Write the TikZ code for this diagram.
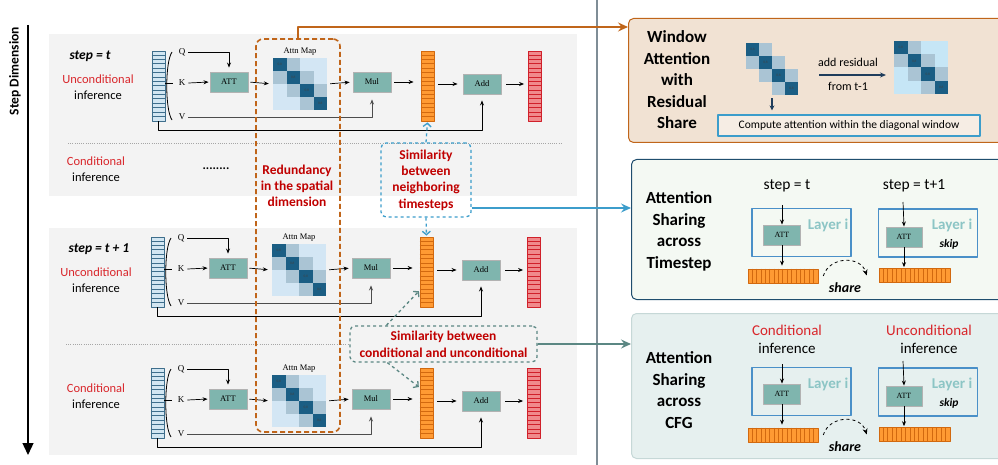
\documentclass[tikz,border=0pt]{standalone}
\usepackage{fontspec}
\setmainfont{Carlito}
\newfontfamily\tm{Liberation Serif}
\usetikzlibrary{arrows.meta,positioning}
\newcommand\fnt[2]{\fontsize{#1}{#2}\selectfont}
\definecolor{panel}{HTML}{F3F3F3}
\definecolor{redt}{HTML}{D9262B}
\definecolor{redb}{HTML}{C00000}
\definecolor{oc}{HTML}{C0651A}
\definecolor{bc}{HTML}{3C9DCB}
\definecolor{gc}{HTML}{5B8783}
\definecolor{opf}{HTML}{7FB5AE}
\definecolor{vinf}{HTML}{D2E6F2}
\definecolor{vinb}{HTML}{3E6E8C}
\definecolor{vmidf}{HTML}{FF9A33}
\definecolor{vmidb}{HTML}{D2690F}
\definecolor{voutf}{HTML}{F08A8C}
\definecolor{voutb}{HTML}{D0202A}
\definecolor{mdark}{HTML}{1B5E84}
\definecolor{mgray}{HTML}{AAC4D4}
\definecolor{mlight}{HTML}{D3E6F4}
\definecolor{mlight2}{HTML}{C6E6F6}
\definecolor{divc}{HTML}{7F8D96}
\definecolor{winf}{HTML}{F1E2D3}
\definecolor{cboxf}{HTML}{F6EDE4}
\definecolor{tsf}{HTML}{F4F9F3}
\definecolor{tsb}{HTML}{1F4E6E}
\definecolor{cff}{HTML}{E6F0EF}
\definecolor{cfb}{HTML}{C6D8D7}
\definecolor{layb}{HTML}{4A90C8}
\definecolor{layt}{HTML}{8CC5C5}
\definecolor{navy}{HTML}{1F3D5C}
% x0, y0, cell w, cell h, fill outside window, name
\newcommand\attnmap[6]{%
  \path[#5] (#1,#2) rectangle ++({4*#3},{4*#4});
  \foreach \ci/\cj in {0/1,1/0,1/2,2/1,2/3,3/2}
    \fill[mgray] ({#1+#3*\ci},{#2+#4*\cj}) rectangle ++(#3,#4);
  \foreach \ci in {0,...,3}
    \node[celltxt, minimum width=#3, minimum height=#4] (#6-\ci) at ({#1+#3*\ci+#3/2},{#2+#4*\ci+#4/2}) {0.8};
}
\begin{document}
\begin{tikzpicture}[x=1pt, y=-1pt, line join=round, font=\fnt{12.5}{16},
  vec/.style={minimum width=13, minimum height=70, inner sep=0pt, line width=0.8pt},
  op/.style={draw=black!30, line width=0.9pt, fill=opf, minimum width=38, minimum height=20, inner sep=0pt, font=\tm\fnt{8.5}{10}},
  qkv/.style={font=\tm\fnt{9}{10}, inner sep=3pt},
  celltxt/.style={fill=mdark, inner sep=0pt, font=\tm\fnt{3.5}{3.5}, text=black!75},
  arr/.style={-{Stealth[length=5pt,width=4pt]}, line width=0.7pt},
  lane/.style={line width=1.1pt, draw=black!70},
  lbl/.style={align=center, font=\fnt{12.5}{16}},
  hint/.style={text=redb, font=\bfseries\fnt{13.5}{16.3}, align=center},
  title/.style={font=\bfseries\fnt{17}{21.5}, align=center},
  layer/.style={draw=layb, line width=1.2pt, minimum width=99, minimum height=48, inner sep=0pt},
  laytxt/.style={text=layt, font=\bfseries\fnt{15}{16}},
  bar/.style={draw=vmidb, fill=vmidf, minimum width=70, minimum height=14, inner sep=0pt, line width=0.6pt},
  link/.style={line width=1.1pt, -{Stealth[length=10pt,width=9pt,inset=3.5pt]}},
  hop/.style={dashed, line width=1.3pt, -{Straight Barb[length=3.5pt,width=8pt]}, shorten >=1pt}]
\useasboundingbox (0,0) rectangle (998,465);
\clip (0,0) rectangle (998,465);

\fill[panel] (49,34) rectangle (577,196);
\fill[panel] (49,228) rectangle (577,455);
\draw[black!35, dash pattern=on 1pt off 1.2pt] (68,143) -- (563,143);
\draw[black!35, dash pattern=on 1pt off 1.2pt] (66,344) -- (563,344);

\node[rotate=90, font=\bfseries\fnt{13.5}{16}] (stepdim) at (15,71) {Step Dimension};
\coordinate (ax-top) at (28,25);
\coordinate (ax-bot) at (28,455);
\draw[line width=1.3pt, -{Triangle[length=12pt,width=11pt]}] (ax-top) -- (ax-bot);

\node[font=\bfseries\itshape\fnt{13.5}{16}] (step-a) at (90,56) {step = t};
\node[font=\bfseries\itshape\fnt{13.5}{16}] (step-b) at (99,249) {step = t + 1};
\node[lbl] (lbl-a) at (98,87) {\textcolor{redt}{Unconditional}\\inference};
\node[lbl] (lbl-ac) at (96,169.5) {\textcolor{redt}{Conditional}\\inference};
\node[lbl] (lbl-b) at (96,280.5) {\textcolor{redt}{Unconditional}\\inference};
\node[lbl] (lbl-c) at (96,396.5) {\textcolor{redt}{Conditional}\\inference};
\node[font=\bfseries\fnt{12.5}{16}] (dots) at (216,169) {........};

\foreach \rw/\dx/\dy in {a/0/0, b/-1/186, c/-1/317}{
\begin{scope}[shift={(\dx,\dy)}]
\node[vec, draw=vinb, fill=vinf] (\rw-in) at (158.5,86) {};
\node[vec, draw=vmidb, fill=vmidf] (\rw-mid) at (427.5,86) {};
\node[vec, draw=voutb, fill=voutf] (\rw-out) at (535,86) {};
\foreach \k in {1,...,15}{
  \draw[vinb, line width=0.6pt] ([yshift=-\k*4.375pt]\rw-in.north west) -- ([yshift=-\k*4.375pt]\rw-in.north east);
  \draw[vmidb, line width=0.6pt] ([yshift=-\k*4.375pt]\rw-mid.north west) -- ([yshift=-\k*4.375pt]\rw-mid.north east);
  \draw[voutb, line width=0.6pt] ([yshift=-\k*4.375pt]\rw-out.north west) -- ([yshift=-\k*4.375pt]\rw-out.north east);
}
\draw[line width=0.8pt] (172,52) .. controls (165,62) and (165,110) .. (172,120);
\node[qkv] (\rw-q) at (182,52) {Q};
\node[qkv] (\rw-k) at (182,83) {K};
\node[qkv] (\rw-v) at (182,117) {V};
\draw[line width=0.7pt] (\rw-in.east |- \rw-k) -- ++(8,0);
\node[op] (\rw-att) at (229,82) {ATT};
\node[inner sep=0pt, minimum width=54, minimum height=52] (\rw-map) at (300,84) {};
\attnmap{273}{58}{13.5}{13}{fill=mlight}{\rw-cell}
\node[above=1pt of \rw-map, font=\tm\fnt{8.5}{9}, inner sep=1pt] (\rw-maplbl) {Attn Map};
\node[op] (\rw-mul) at (372,82) {Mul};
\node[op] (\rw-add) at (482,84) {Add};
\draw[arr, shorten >=4pt] (\rw-q.east) -| (\rw-att.north);
\draw[arr, shorten >=1pt] (\rw-k.east) -- (\rw-att.west);
\draw[arr, shorten <=2pt, shorten >=4pt] (\rw-att.east) -- (\rw-map.west);
\draw[arr, shorten <=3pt, shorten >=3pt] (\rw-map.east) -- (\rw-mul.west);
\draw[arr, shorten <=3pt, shorten >=7pt] (\rw-mul.east) -- (\rw-mid.west |- \rw-mul);
\draw[arr, shorten <=4pt, shorten >=5pt] (\rw-mid.east |- \rw-add) -- (\rw-add.west);
\draw[arr, shorten <=5pt, shorten >=4pt] (\rw-add.east) -- (\rw-out.west |- \rw-add);
\draw[lane, arr, shorten >=7pt] (\rw-v.east) -| (\rw-mul.south);
\draw[arr, line width=0.9pt, shorten >=6pt] (\rw-in.south) -- ++(0,9) -| (\rw-add.south);
\end{scope}}

\node[draw=oc, dash pattern=on 5pt off 3pt, line width=1.6pt, rounded corners=7pt, minimum width=84, minimum height=393] (redun) at (298,235.5) {};
\node[hint] (redun-t) at (297,186) {Redundancy\\in the spatial\\dimension};
\node[draw=bc, dashed, line width=1.3pt, rounded corners=5pt, minimum width=90, minimum height=74, hint] (simnb) at (426,180) {Similarity\\between\\neighboring\\timesteps};
\node[draw=gc, dashed, line width=1.3pt, rounded corners=5pt, fill=panel, minimum width=187, minimum height=36, hint, font=\bfseries\fnt{13.5}{17}] (simcf) at (443.5,344) {Similarity between\\conditional and unconditional};
\draw[hop, bc] (simnb.north) -- (a-mid.south);
\draw[hop, bc] (simnb.south) -- (b-mid.north);
\draw[hop, gc] ([xshift=37pt]simcf.north west) -- ([yshift=17pt]b-mid.south west);
\draw[hop, gc] ([xshift=38pt]simcf.south west) -- ([yshift=-20pt]c-mid.north west);

\coordinate (div-top) at (597,0);
\coordinate (div-bot) at (597,465);
\draw[divc, line width=2pt] (div-top) -- (div-bot);

\node[draw=oc, fill=winf, rounded corners=5pt, line width=1pt, minimum width=380, minimum height=124, anchor=north west] (win) at (628,18) {};
\node[draw=tsb, fill=tsf, rounded corners=5pt, line width=1pt, minimum width=380, minimum height=140, anchor=north west] (ts) at (631,159) {};
\node[draw=cfb, fill=cff, rounded corners=5pt, line width=1pt, minimum width=380, minimum height=145, anchor=north west] (cf) at (631,313) {};

\coordinate (wtip) at (628,27);
\coordinate (tstip) at (631,208);
\coordinate (cftip) at (631,344);
\draw[link, oc] (redun.north) |- (wtip);
\draw[link, bc] (simnb.east |- tstip) -- (tstip);
\draw[link, gc] (simcf.east) -- (cftip);

\node[title] (win-t) at (677,80) {Window\\Attention\\with\\Residual\\Share};
\node[title] (ts-t) at (679,231.5) {Attention\\Sharing\\across\\Timestep};
\node[title] (cf-t) at (679,390) {Attention\\Sharing\\across\\CFG};

\node[inner sep=0pt, minimum width=52, minimum height=52] (wmat) at (772,69) {};
\attnmap{746}{43}{13}{13}{fill=none}{wcell}
\node[inner sep=0pt, minimum width=54, minimum height=53] (fmat) at (921,67.5) {};
\attnmap{894}{41}{13.5}{13.25}{fill=mlight2}{fcell}
\node[draw=bc, fill=cboxf, line width=1.2pt, minimum width=262, minimum height=21, inner sep=0pt, font=\fnt{11.5}{13}] (cbox) at (849,125.5) {Compute attention within the diagonal window};
\draw[navy, line width=1.2pt, -{Stealth[length=5pt,width=5pt]}, shorten <=3pt, shorten >=4pt] (wmat.south) -- (wmat.south |- cbox.north);
\node[font=\fnt{12}{14}] (addres) at (848,62) {add residual};
\node[font=\fnt{12}{14}] (fromt) at (848,86) {from t-1};
\coordinate (res-a) at (819,75);
\coordinate (res-b) at (886,75);
\draw[navy, line width=1.2pt, -{Stealth[length=6pt,width=5pt]}] (res-a) -- (res-b);

\node[font=\fnt{15.5}{18}] (ts-h1) at (787,186) {step = t};
\node[font=\fnt{15.5}{18}] (ts-h2) at (914,186) {step = t+1};
\node[align=center, font=\fnt{15}{18}] (cf-h1) at (787,339) {\textcolor{redt}{Conditional}\\inference};
\node[align=center, font=\fnt{15}{18}] (cf-h2) at (929,339.5) {\textcolor{redt}{Unconditional}\\inference};

\foreach \bx/\dy in {ts/0, cf/159}{
\begin{scope}[shift={(0,\dy)}]
\node[layer] (\bx-l1) at (801.5,232.5) {};
\node[layer] (\bx-l2) at (928,233) {};
\node[op, minimum width=37, font=\tm\fnt{8}{10}] (\bx-a1) at (782,235) {ATT};
\node[op, minimum width=36, font=\tm\fnt{8}{10}] (\bx-a2) at (904,237) {ATT};
\node[laytxt] (\bx-t1) at (828,225) {Layer i};
\node[laytxt] (\bx-t2) at (952,225) {Layer i};
\node[font=\bfseries\itshape\fnt{11.5}{13}] (\bx-sk) at (949,244) {skip};
\node[bar] (\bx-b1) at (783,276) {};
\node[bar, minimum width=71] (\bx-b2) at (914.5,275.5) {};
\foreach \k in {1,...,15}{
  \draw[vmidb, line width=0.5pt] ([xshift=\k*4.375pt]\bx-b1.north west) -- ([xshift=\k*4.375pt]\bx-b1.south west);
  \draw[vmidb, line width=0.5pt] ([xshift=\k*4.44pt]\bx-b2.north west) -- ([xshift=\k*4.44pt]\bx-b2.south west);
}
\coordinate (\bx-i1) at (782,205);
\coordinate (\bx-i2) at (903,202);
\draw[arr] (\bx-i1) -- (\bx-a1.north);
\draw[arr] (\bx-i2) -- (\bx-a2.north);
\draw[arr, shorten >=3pt] (\bx-a1.south) -- (\bx-b1.north -| \bx-a1.south);
\draw[arr, shorten >=1pt] (\bx-a2.south) -- (\bx-b2.north -| \bx-a2.south);
\draw[dashed, line width=0.8pt, -{Stealth[length=6pt,width=5pt]}] ([xshift=5pt]\bx-b1.east) .. controls +(6,-20) and +(-6,-20) .. ([xshift=-12pt]\bx-b2.west);
\node[font=\bfseries\itshape\fnt{14}{16}] (\bx-sh) at (845,288) {share};
\end{scope}}
\end{tikzpicture}
\end{document}
